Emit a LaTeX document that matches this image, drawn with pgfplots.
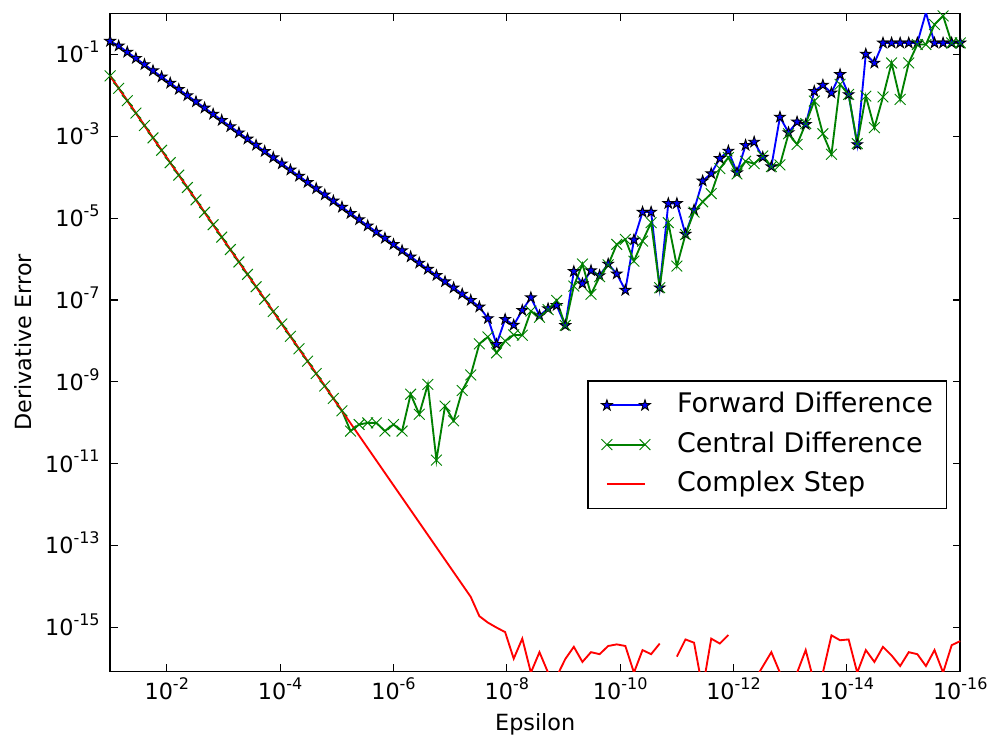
\documentclass[border=0pt]{standalone}
\usepackage{fontspec}
\setmainfont{DejaVu Sans}
\usepackage{pgfplots}
\usepackage{pgfplotstable}
\pgfplotsset{compat=1.18}

% filled five-pointed star with an outline
\pgfdeclareplotmark{fstar}{%
  \pgfpathmoveto{\pgfqpointpolar{90}{\pgfplotmarksize}}%
  \pgfpathlineto{\pgfqpointpolar{126}{0.382\pgfplotmarksize}}%
  \pgfpathlineto{\pgfqpointpolar{162}{\pgfplotmarksize}}%
  \pgfpathlineto{\pgfqpointpolar{198}{0.382\pgfplotmarksize}}%
  \pgfpathlineto{\pgfqpointpolar{234}{\pgfplotmarksize}}%
  \pgfpathlineto{\pgfqpointpolar{270}{0.382\pgfplotmarksize}}%
  \pgfpathlineto{\pgfqpointpolar{306}{\pgfplotmarksize}}%
  \pgfpathlineto{\pgfqpointpolar{342}{0.382\pgfplotmarksize}}%
  \pgfpathlineto{\pgfqpointpolar{18}{\pgfplotmarksize}}%
  \pgfpathlineto{\pgfqpointpolar{54}{0.382\pgfplotmarksize}}%
  \pgfpathclose
  \pgfusepathqfillstroke
}

\newcommand{\pw}[1]{10\raisebox{5.4bp}{\fontsize{8.6}{10}\selectfont #1}}

% step size, forward, central and complex-step derivative errors
\pgfplotstableread{
x fwd ctr cpx
1.000e-1 2.100e-1 2.990e-2 2.990e-2
7.055e-2 1.616e-1 1.488e-2 1.488e-2
4.977e-2 1.140e-1 7.406e-3 7.406e-3
3.511e-2 8.040e-2 3.686e-3 3.686e-3
2.477e-2 5.672e-2 1.835e-3 1.835e-3
1.748e-2 4.003e-2 9.136e-4 9.136e-4
1.233e-2 2.824e-2 4.546e-4 4.546e-4
8.697e-3 1.992e-2 2.262e-4 2.262e-4
6.136e-3 1.405e-2 1.126e-4 1.126e-4
4.329e-3 9.913e-3 5.603e-5 5.603e-5
3.054e-3 6.994e-3 2.789e-5 2.789e-5
2.154e-3 4.933e-3 1.387e-5 1.387e-5
1.520e-3 3.481e-3 6.908e-6 6.908e-6
1.072e-3 2.455e-3 3.436e-6 3.436e-6
7.565e-4 1.732e-3 1.711e-6 1.711e-6
5.337e-4 1.222e-3 8.517e-7 8.517e-7
3.765e-4 8.622e-4 4.238e-7 4.238e-7
2.656e-4 6.082e-4 2.109e-7 2.109e-7
1.874e-4 4.291e-4 1.050e-7 1.050e-7
1.322e-4 3.027e-4 5.226e-8 5.226e-8
9.326e-5 2.136e-4 2.600e-8 2.600e-8
6.579e-5 1.507e-4 1.294e-8 1.294e-8
4.642e-5 1.063e-4 6.443e-9 6.443e-9
3.275e-5 7.500e-5 3.207e-9 3.207e-9
2.310e-5 5.290e-5 1.595e-9 1.595e-9
1.630e-5 3.733e-5 7.944e-10 7.944e-10
1.150e-5 2.634e-5 3.954e-10 3.954e-10
8.111e-6 1.857e-5 1.967e-10 1.967e-10
5.722e-6 1.310e-5 6.31e-11 9.790e-11
4.037e-6 9.245e-6 9.12e-11 4.873e-11
2.848e-6 6.522e-6 1.00e-10 2.425e-11
2.009e-6 4.601e-6 1.00e-10 1.207e-11
1.417e-6 3.245e-6 6.31e-11 6.004e-12
1.000e-6 2.290e-6 9.12e-11 2.990e-12
7.055e-7 1.616e-6 6.31e-11 1.488e-12
4.977e-7 1.140e-6 5.01e-10 7.406e-13
3.511e-7 8.040e-7 1.62e-10 3.686e-13
2.477e-7 5.672e-7 8.71e-10 1.835e-13
1.748e-7 4.003e-7 1.23e-11 9.136e-14
1.233e-7 2.824e-7 2.57e-10 4.546e-14
8.697e-8 1.992e-7 1.12e-10 2.262e-14
6.136e-8 1.405e-7 6.17e-10 1.126e-14
4.329e-8 9.913e-8 1.48e-9 5.603e-15
3.054e-8 6.80e-8 8.51e-9 1.90e-15
2.154e-8 3.55e-8 1.26e-8 1.32e-15
1.520e-8 8.32e-9 5.13e-9 1.00e-15
1.072e-8 3.39e-8 1.00e-8 7.76e-16
7.565e-9 2.45e-8 1.41e-8 1.74e-16
5.337e-9 5.62e-8 1.38e-8 5.37e-16
3.765e-9 1.15e-7 5.37e-8 7.94e-17
2.656e-9 4.17e-8 3.80e-8 2.51e-16
1.874e-9 6.17e-8 5.82e-8 7.94e-17
1.322e-9 7.41e-8 9.77e-8 6.31e-17
9.326e-10 2.40e-8 2.40e-8 1.70e-16
6.579e-10 5.01e-7 2.19e-7 3.39e-16
4.642e-10 2.51e-7 7.59e-7 1.45e-16
3.275e-10 5.25e-7 1.38e-7 2.51e-16
2.310e-10 3.98e-7 3.72e-7 2.24e-16
1.630e-10 7.59e-7 7.24e-7 3.55e-16
1.150e-10 4.37e-7 2.29e-6 3.89e-16
8.111e-11 1.74e-7 3.02e-6 3.55e-16
5.722e-11 2.95e-6 8.91e-7 7.94e-17
4.037e-11 1.41e-5 2.75e-6 2.82e-16
2.848e-11 1.41e-5 7.76e-6 2.24e-16
2.009e-11 2.00e-7 2.00e-7 4.07e-16
1.417e-11 2.29e-5 7.76e-6 nan
1.000e-11 2.29e-5 6.76e-7 1.95e-16
7.055e-12 4.07e-6 3.98e-6 5.13e-16
4.977e-12 1.585e-5 1.41e-5 4.27e-16
3.511e-12 8.13e-5 2.51e-5 3.16e-17
2.477e-12 1.23e-4 3.98e-5 5.37e-16
1.748e-12 2.88e-4 1.62e-4 4.07e-16
1.233e-12 4.37e-4 3.02e-4 6.61e-16
8.697e-13 1.29e-4 1.20e-4 nan
6.136e-13 6.03e-4 2.45e-4 nan
4.329e-13 7.24e-4 2.14e-4 5.01e-17
3.054e-13 3.09e-4 3.31e-4 1.12e-16
2.154e-13 1.82e-4 1.82e-4 2.51e-16
1.520e-13 2.95e-3 2.00e-4 7.94e-17
1.072e-13 1.23e-3 1.15e-3 nan
7.565e-14 2.24e-3 6.31e-4 7.94e-17
5.337e-14 1.95e-3 2.04e-3 2.82e-16
3.765e-14 1.26e-2 7.24e-3 4.47e-17
2.656e-14 1.78e-2 1.15e-3 7.94e-17
1.874e-14 1.15e-2 3.63e-4 6.46e-16
1.322e-14 3.24e-2 1.86e-2 4.90e-16
9.326e-15 1.05e-2 1.05e-2 5.13e-16
6.579e-15 6.31e-4 6.61e-4 7.94e-17
4.642e-15 1.02e-1 9.55e-3 2.82e-16
3.275e-15 6.17e-2 1.62e-3 1.45e-16
2.310e-15 1.905e-1 9.12e-3 3.39e-16
1.630e-15 1.905e-1 6.17e-2 2.09e-16
1.150e-15 1.905e-1 7.94e-3 1.15e-16
8.111e-16 1.905e-1 6.17e-2 2.51e-16
5.722e-16 1.905e-1 1.74e-1 2.24e-16
4.037e-16 1.05 1.74e-1 1.15e-16
2.848e-16 1.905e-1 5.37e-1 2.82e-16
2.009e-16 1.905e-1 8.71e-1 7.94e-17
1.417e-16 1.905e-1 1.905e-1 3.72e-16
1.000e-16 1.905e-1 1.905e-1 4.68e-16
}\errtable

\begin{document}
\begin{tikzpicture}
\begin{axis}[
  scale only axis,
  width=455.6bp, height=352.6bp,
  xmode=log, ymode=log,
  x dir=reverse,
  xmin=1e-16, xmax=1e-1,
  ymin=8.5e-17, ymax=1,
  unbounded coords=jump,
  axis line style={line width=0.9pt},
  tick align=inside,
  major tick length=4bp,
  every tick/.style={black, line width=0.6pt},
  xtick={1e-2,1e-4,1e-6,1e-8,1e-10,1e-12,1e-14,1e-16},
  xticklabels={\pw{-2},\pw{-4},\pw{-6},\pw{-8},\pw{-10},\pw{-12},\pw{-14},\pw{-16}},
  ytick={1e-1,1e-3,1e-5,1e-7,1e-9,1e-11,1e-13,1e-15},
  yticklabels={\pw{-1},\pw{-3},\pw{-5},\pw{-7},\pw{-9},\pw{-11},\pw{-13},\pw{-15}},
  minor xtick={}, minor ytick={},
  tick label style={font=\fontsize{12}{14}\selectfont},
  xticklabel style={anchor=base, inner sep=0pt, yshift=-15bp},
  yticklabel style={anchor=base east, inner sep=0pt, xshift=-5.4bp, yshift=-4.4bp},
  xlabel={Epsilon},
  ylabel={Derivative Error},
  every axis x label/.style={at={(axis description cs:0.5,0)}, anchor=base,
    yshift=-31.5bp, font=\fontsize{12}{14}\selectfont},
  every axis y label/.style={at={([xshift=-42bp]axis description cs:0,0.5)},
    rotate=90, anchor=base, font=\fontsize{12}{14}\selectfont},
  legend image code/.code={\draw[#1] plot coordinates {(0bp,0bp) (20.4bp,0bp)};},
  legend cell align=left,
  legend style={
    at={(axis description cs:0.9847,0.443)}, anchor=north east,
    draw=black, line width=0.9pt, fill=white,
    font=\fontsize{14.5}{17}\selectfont,
    inner xsep=7.2bp, inner ysep=6.2bp,
    row sep=7bp,
    nodes={inner sep=0pt, text height=11bp, text depth=3bp},
    /tikz/every odd column/.append style={column sep=14.3bp},
  },
]
\addplot[blue, line width=1pt, mark=fstar, mark size=3pt,
  mark options={fill=blue, draw=black, line width=0.5pt}]
  table[x=x, y=fwd] {\errtable};
\addlegendentry{Forward Difference}
\addplot[color={rgb,1:red,0;green,0.5;blue,0}, line width=1pt, mark=x, mark size=4.1pt,
  mark options={line width=0.5pt}]
  table[x=x, y=ctr] {\errtable};
\addlegendentry{Central Difference}
\addplot[red, line width=1pt]
  table[x=x, y=cpx] {\errtable};
\addlegendentry{Complex Step}
\end{axis}
\pgfresetboundingbox
\path ([shift={(-59.0bp,-34.1bp)}]current axis.south west) rectangle ([shift={(15.4bp,7.2bp)}]current axis.north east);
\end{tikzpicture}
\end{document}
